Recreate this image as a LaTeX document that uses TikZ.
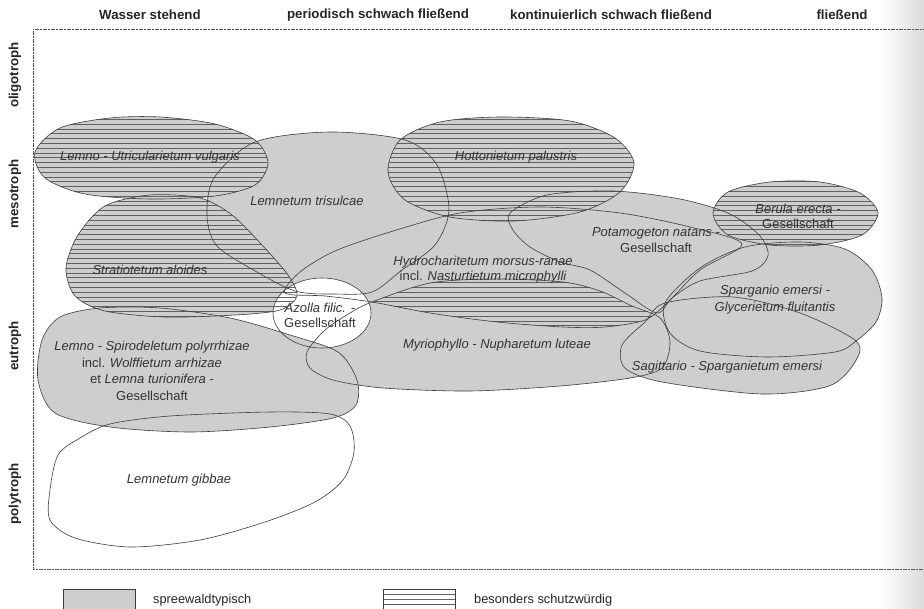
\documentclass[tikz,border=0pt]{standalone}
\usepackage{fontspec}
\setmainfont{Liberation Sans}
\definecolor{spreegray}{RGB}{206,206,206}
\definecolor{inkc}{RGB}{60,60,60}
\newcommand\mylab{\fontsize{13}{16}\selectfont\itshape}
\newcommand\myhead{\fontsize{13.3}{16}\selectfont\bfseries}
\newcommand\myleg{\fontsize{12.8}{15}\selectfont}
\tikzset{
  outl/.style={draw=inkc, line width=0.6pt},
  sfill/.style={fill=spreegray},
  hatchln/.style={draw=black!62, line width=0.55pt},
  lab/.style={font=\mylab, text=black!80, align=center, inner sep=0pt},
  head/.style={font=\myhead, text=black!85, inner sep=0pt},
  leg/.style={font=\myleg, text=black!85, anchor=west, inner sep=0pt},
  framel/.style={draw=black!65, line width=0.8pt, dash pattern=on 1.2pt off 0.4pt},
}
\newcommand\hatchfill{\foreach \k in {0,...,105} {\draw[hatchln] (30,{100+4.8*\k}) -- (900,{100+4.8*\k});}}
\def\Putric{plot[smooth cycle] coordinates {(35,152) (60,128) (110,118) (160,117) (215,124) (255,140) (268,163) (255,185) (215,196) (150,199) (85,194) (45,178)}}
\def\Ptris{plot[smooth cycle] coordinates {(207,215) (214,178) (255,142) (330,132) (405,140) (437,165) (449,210) (435,245) (402,270) (372,292) (335,294) (295,291) (250,268) (216,245)}}
\def\Pstrat{plot[smooth cycle] coordinates {(66,268) (78,235) (105,206) (150,195) (200,198) (232,215) (262,245) (288,275) (297,296) (280,310) (235,315) (165,317) (105,311) (75,296)}}
\def\Photton{plot[smooth cycle] coordinates {(388,172) (400,140) (440,122) (500,117) (570,121) (615,138) (634,163) (620,192) (580,212) (515,221) (450,217) (405,200)}}
\def\Pberula{plot[smooth cycle] coordinates {(713,213) (728,192) (770,182) (820,182) (860,193) (878,213) (862,235) (820,245) (770,245) (728,235)}}
\def\Phydro{plot[smooth cycle] coordinates {(285,293) (300,272) (335,251) (390,232) (460,213) (540,207) (620,213) (690,227) (742,244) (700,270) (667,303) (645,320) (605,327) (563,327) (497,322) (430,313) (372,302) (325,296)}}
\def\Pmyrio{plot[smooth cycle] coordinates {(307,352) (325,330) (350,313) (372,302) (430,283) (497,279) (563,282) (600,291) (632,306) (660,318) (670,342) (662,368) (630,378) (560,386) (470,391) (383,388) (333,380) (310,368)}}
\def\Ppotam{plot[smooth cycle] coordinates {(510,213) (547,195) (613,191) (680,199) (730,214) (760,236) (768,256) (752,271) (700,281) (672,298) (657,313) (625,293) (590,270) (560,262) (530,247) (513,230)}}
\def\Psparg{plot[smooth cycle] coordinates {(665,303) (700,268) (745,247) (800,242) (845,249) (872,270) (882,298) (876,322) (856,341) (835,352) (767,357) (700,351) (670,333)}}
\def\Psagit{plot[smooth cycle] coordinates {(665,303) (645,322) (622,345) (625,368) (662,382) (762,394) (829,386) (855,362) (856,341) (800,313) (733,297)}}
\def\Plemsp{plot[smooth cycle] coordinates {(38,380) (42,340) (60,317) (100,308) (160,308) (230,318) (290,335) (338,352) (357,380) (356,405) (333,418) (270,427) (190,432) (110,427) (55,413)}}
\def\Pgibb{plot[smooth cycle] coordinates {(50,490) (58,455) (80,438) (110,424) (170,416) (270,412) (330,414) (350,426) (354,452) (343,480) (315,502) (265,522) (200,540) (130,547) (75,538) (50,520)}}
\def\Pazolla{(322,313) ellipse [x radius=49pt, y radius=35pt]}
\begin{document}
\begin{tikzpicture}[x=1pt,y=-1pt]
\useasboundingbox (0,0) rectangle (924,609);
\fill[white] (0,0) rectangle (924,609);
\shade[left color=white, right color=black!14] (880,0) rectangle (924,609);
% gray fills
\fill[sfill] \Putric;
\fill[sfill] \Ptris;
\fill[sfill] \Pstrat;
\fill[sfill] \Photton;
\fill[sfill] \Pberula;
\fill[sfill] \Phydro;
\fill[sfill] \Pmyrio;
\fill[sfill] \Ppotam;
\fill[sfill] \Psparg;
\fill[sfill] \Psagit;
\fill[white] \Pazolla;
\fill[sfill] \Plemsp;
% hatching
\begin{scope}\clip \Putric; \hatchfill \end{scope}
\begin{scope}\clip \Pstrat; \hatchfill \end{scope}
\begin{scope}\clip \Photton; \hatchfill \end{scope}
\begin{scope}\clip \Pberula; \hatchfill \end{scope}
\begin{scope}\clip \Phydro; \clip \Pmyrio; \hatchfill \end{scope}
% outlines
\draw[outl] \Putric;
\draw[outl] \Ptris;
\draw[outl] \Pstrat;
\draw[outl] \Photton;
\draw[outl] \Pberula;
\draw[outl] \Phydro;
\draw[outl] \Pmyrio;
\draw[outl] \Ppotam;
\draw[outl] \Psparg;
\draw[outl] \Psagit;
\draw[outl] \Plemsp;
\draw[outl] \Pgibb;
\draw[outl] \Pazolla;
% labels
\node[lab] (tUtric) at (150,157) {Lemno - Utricularietum vulgaris};
\node[lab] (tTris) at (307,201) {Lemnetum trisulcae};
\node[lab] (tStrat) at (150,270) {Stratiotetum aloides};
\node[lab] (tHotton) at (516,157) {Hottonietum palustris};
\node[lab] (tHydro) at (483,270) {Hydrocharitetum morsus-ranae\\[-1pt]{\upshape incl.} Nasturtietum microphylli};
\node[lab] (tAzolla) at (320,315) {Azolla filic. -\\[-1pt]{\upshape Gesellschaft}};
\node[lab] (tMyrio) at (497,345) {Myriophyllo - Nupharetum luteae};
\node[lab] (tPotam) at (656,240) {Potamogeton natans -\\{\upshape Gesellschaft}};
\node[lab] (tBerula) at (798,216) {Berula erecta -\\[-1pt]{\upshape Gesellschaft}};
\node[lab] (tSparg) at (775,300) {Sparganio emersi -\\[1pt]Glycerietum fluitantis};
\node[lab] (tSagit) at (727,367) {Sagittario - Sparganietum emersi};
\node[lab] (tLemsp) at (152,371) {Lemno - Spirodeletum polyrrhizae\\[0.5pt]{\upshape incl.} Wolffietum arrhizae\\[0.5pt]{\upshape et} Lemna turionifera -\\[0.5pt]{\upshape Gesellschaft}};
\node[lab] (tGibb) at (179,480) {Lemnetum gibbae};
% frame
\draw[framel] (924,29) -- (33,29) -- (33,569) -- (924,569);
% headers
\node[head] (hA) at (150,15) {Wasser stehend};
\node[head] (hB) at (378,15) {periodisch schwach fließend};
\node[head] (hC) at (611,15) {kontinuierlich schwach fließend};
\node[head] (hD) at (842,15) {fließend};
\node[head, rotate=90] (rA) at (15,75) {oligotroph};
\node[head, rotate=90] (rB) at (15,194) {mesotroph};
\node[head, rotate=90] (rC) at (15,346) {eutroph};
\node[head, rotate=90] (rD) at (15,494) {polytroph};
% legend
\draw[outl, sfill] (63,589) rectangle (135,612);
\begin{scope}\clip (383,589) rectangle (455,612); \hatchfill \end{scope}
\draw[outl] (383,589) rectangle (455,612);
\node[leg] (lA) at (153,600) {spreewaldtypisch};
\node[leg] (lB) at (474,600) {besonders schutzwürdig};
\end{tikzpicture}
\end{document}
